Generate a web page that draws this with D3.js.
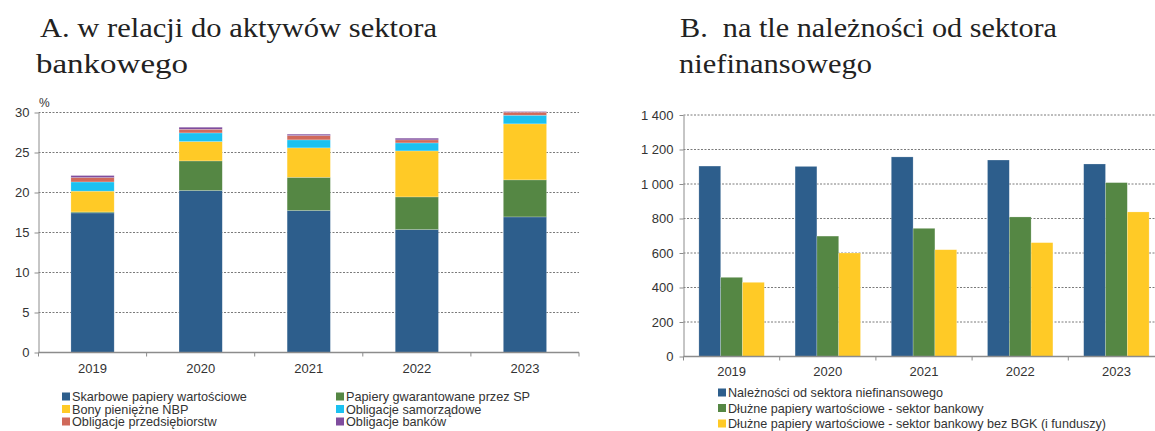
<!DOCTYPE html>
<html lang="pl">
<head>
<meta charset="UTF-8">
<title>Papiery wartościowe</title>
<style>
  body { margin: 0; background: #fff; }
  svg { display: block; }
  .tick text, .lbl { font-family: 'Liberation Sans', Arial, sans-serif; fill: #333; }
  .title { font-family: 'Liberation Serif', 'DejaVu Serif', serif; fill: #222; white-space: pre; }
</style>
</head>
<body>
<svg id="chart" width="1155" height="431"></svg>
<script src="https://d3js.org/d3.v7.min.js"></script>
<script>
// ---- data: panel A (% of banking sector assets)
const yearsA = ['2019', '2020', '2021', '2022', '2023'];
const seriesA = ['Skarbowe papiery wartościowe', 'Papiery gwarantowane przez SP', 'Bony pieniężne NBP',
                 'Obligacje samorządowe', 'Obligacje przedsiębiorstw', 'Obligacje banków'];
const skarbowe     = [17.45, 20.25, 17.75, 15.37, 16.95];
const gwarantowane = [0.12, 3.70, 4.15, 4.08, 4.63];
const bonyNBP      = [2.60, 2.42, 3.68, 5.75, 7.00];
const samorzadowe  = [1.15, 1.08, 1.00, 1.00, 1.08];
const przedsieb    = [0.55, 0.45, 0.54, 0.38, 0.38];
const bankow       = [0.25, 0.26, 0.17, 0.21, 0.08];
const ticksA = [0, 5, 10, 15, 20, 25, 30];

// ---- data: panel B (bn zł)
const yearsB = ['2019', '2020', '2021', '2022', '2023'];
const seriesB = ['Należności od sektora niefinansowego', 'Dłużne papiery wartościowe - sektor bankowy',
                 'Dłużne papiery wartościowe - sektor bankowy bez BGK (i funduszy)'];
const naleznosci = [1104, 1102, 1157, 1139, 1116];
const dluzne     = [459, 698, 743, 809, 1008];
const dluzneBez  = [430, 600, 619, 660, 838];
const ticksB = [0, 200, 400, 600, 800, 1000, 1200, 1400];

const colorsA = ['#2d5e8c', '#558744', '#ffca26', '#1bc1f1', '#d0695a', '#7f4d9e'];
const colorsB = ['#2d5e8c', '#558744', '#ffca26'];

const svg = d3.select('#chart');

// title lines: stretched to the width of the original line
function titleLine(g, txt, x, y, targetW) {
  g.append('text').attr('class', 'title').attr('x', x).attr('y', y)
    .attr('font-size', 26.5).attr('xml:space', 'preserve')
    .attr('textLength', targetW).attr('lengthAdjust', 'spacingAndGlyphs')
    .text(txt);
}

function grid(g, y, ticks, x0, x1) {
  g.selectAll('line.grid').data(ticks.filter(d => d > 0)).join('line')
    .attr('class', 'grid')
    .attr('x1', x0).attr('x2', x1)
    .attr('y1', d => y(d)).attr('y2', d => y(d))
    .attr('stroke', '#7a7a7a').attr('stroke-width', 1).attr('stroke-dasharray', '2,1.5');
}

function styleAxis(a) {
  a.select('.domain').attr('stroke', '#8c8c8c');
  a.selectAll('.tick line').attr('stroke', '#8c8c8c');
  a.selectAll('.tick text').attr('font-size', 13);
}

function xTicks(g, x, domain, yBase) {
  const pos = domain.map(d => x(d)).concat([x(domain[domain.length - 1]) + x.step()]);
  g.selectAll('line.xt').data(pos).join('line').attr('class', 'xt')
    .attr('x1', d => d).attr('x2', d => d).attr('y1', yBase).attr('y2', yBase + 4)
    .attr('stroke', '#8c8c8c');
}

// ================= Panel A =================
const gA = svg.append('g');
titleLine(gA, 'A. w relacji do aktywów sektora', 40, 37, 397);
titleLine(gA, 'bankowego', 36, 73, 152);

const xA = d3.scaleBand().domain(yearsA).range([38.5, 579]);
const yA = d3.scaleLinear().domain([0, 30]).range([352.5, 112.5]);

grid(gA, yA, ticksA, 38.5, 579);

const tableA = yearsA.map((yr, i) => {
  const row = { year: yr };
  [skarbowe, gwarantowane, bonyNBP, samorzadowe, przedsieb, bankow].forEach((s, k) => row[seriesA[k]] = s[i]);
  return row;
});
const stackA = d3.stack().keys(seriesA)(tableA);
const bwA = xA.bandwidth() * 0.4;

gA.selectAll('g.layer').data(stackA).join('g').attr('class', 'layer')
  .attr('fill', (d, i) => colorsA[i])
  .selectAll('rect').data(d => d).join('rect')
  .attr('x', d => xA(d.data.year) + (xA.bandwidth() - bwA) / 2)
  .attr('width', bwA)
  .attr('y', d => yA(d[1]))
  .attr('height', d => yA(d[0]) - yA(d[1]))
  .attr('stroke', 'rgba(255,255,255,0.35)').attr('stroke-width', 0.6);

const axYA = gA.append('g').attr('transform', 'translate(38.5,0)')
  .call(d3.axisLeft(yA).tickValues(ticksA).tickSize(4).tickSizeOuter(0).tickPadding(5));
styleAxis(axYA);

const axXA = gA.append('g').attr('transform', 'translate(0,352.5)')
  .call(d3.axisBottom(xA).tickSize(0).tickPadding(11));
styleAxis(axXA);
axXA.select('.domain').attr('d', `M38.5,0H579`).attr('stroke-width', 1.5);
xTicks(gA, xA, yearsA, 352.5);

gA.append('text').attr('class', 'lbl').attr('x', 39).attr('y', 107).attr('font-size', 12).text('%');

// legend A
const legA = gA.append('g');
seriesA.forEach((s, i) => {
  const col = i % 2, row = Math.floor(i / 2);
  const lx = col === 0 ? 62 : 336, ly = 397 + row * 12.5;
  legA.append('rect').attr('x', lx).attr('y', ly - 4.5).attr('width', 8).attr('height', 8).attr('fill', colorsA[i]);
  legA.append('text').attr('class', 'lbl').attr('x', lx + 10).attr('y', ly + 4).attr('font-size', 12.7).text(s);
});

// ================= Panel B =================
const gB = svg.append('g');
titleLine(gB, 'B.  na tle należności od sektora', 680, 37, 377);
titleLine(gB, 'niefinansowego', 679, 73, 193);

const xB = d3.scaleBand().domain(yearsB).range([683.5, 1164.5]);
const yB = d3.scaleLinear().domain([0, 1400]).range([356.5, 115]);
const x1B = d3.scaleBand().domain(seriesB).range([xB.bandwidth() * 0.16, xB.bandwidth() * 0.84]);

grid(gB, yB, ticksB, 683.5, 1155);

const vals = [naleznosci, dluzne, dluzneBez];
const gBars = gB.selectAll('g.yr').data(yearsB).join('g').attr('class', 'yr')
  .attr('transform', d => `translate(${xB(d)},0)`);
gBars.selectAll('rect').data((yr, i) => seriesB.map((s, k) => ({ s, k, v: vals[k][i] }))).join('rect')
  .attr('x', d => x1B(d.s))
  .attr('width', x1B.bandwidth())
  .attr('y', d => yB(d.v))
  .attr('height', d => yB(0) - yB(d.v))
  .attr('fill', d => colorsB[d.k])
  .attr('stroke', 'rgba(255,255,255,0.35)').attr('stroke-width', 0.6);

const fmt = d => d3.format(',')(d).replace(',', ' ');
const axYB = gB.append('g').attr('transform', 'translate(683.5,0)')
  .call(d3.axisLeft(yB).tickValues(ticksB).tickFormat(fmt).tickSize(4).tickSizeOuter(0).tickPadding(6));
styleAxis(axYB);

const axXB = gB.append('g').attr('transform', 'translate(0,356.5)')
  .call(d3.axisBottom(xB).tickSize(0).tickPadding(10));
styleAxis(axXB);
axXB.select('.domain').attr('d', `M683.5,0H1155`).attr('stroke-width', 1.5);
xTicks(gB, xB, yearsB, 356.5);

const legB = gB.append('g');
seriesB.forEach((s, i) => {
  const ly = 393 + i * 15.5;
  legB.append('rect').attr('x', 718).attr('y', ly - 4.5).attr('width', 8).attr('height', 8).attr('fill', colorsB[i]);
  legB.append('text').attr('class', 'lbl').attr('x', 728).attr('y', ly + 4).attr('font-size', 12.6).text(s);
});
</script>
</body>
</html>
